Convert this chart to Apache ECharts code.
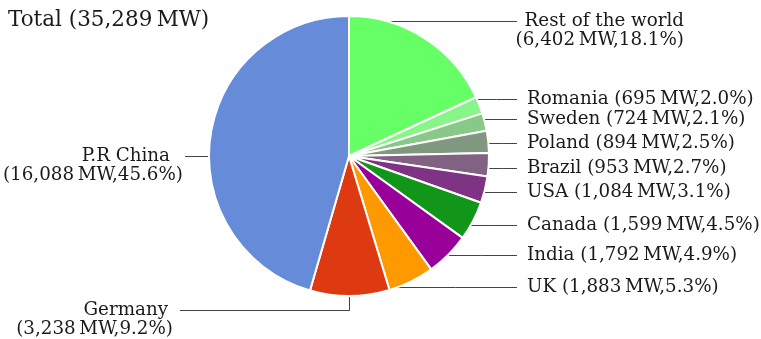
<!DOCTYPE html>
<html>
<head>
<meta charset="utf-8">
<style>
  html, body { margin: 0; padding: 0; background: #ffffff; }
  #chart { width: 761px; height: 339px; }
</style>
<script src="https://cdn.jsdelivr.net/npm/echarts@6/dist/echarts.min.js"></script>
</head>
<body>
<div id="chart"></div>
<script>
// Installed wind power capacity by country (MW), clockwise from 12 o'clock
const categories = ['Rest of the world', 'Romania', 'Sweden', 'Poland', 'Brazil', 'USA',
                    'Canada', 'India', 'UK', 'Germany', 'P.R China'];
const capacityMW = [6402, 695, 724, 894, 953, 1084, 1599, 1792, 1883, 3238, 16088];
const sharePct = ['18.1', '2.0', '2.1', '2.5', '2.7', '3.1', '4.5', '4.9', '5.3', '9.2', '45.6'];
const totalMW = 35289;

const sliceColors = ['#66ff66', '#88f588', '#88c888', '#809880', '#826282', '#7f3385',
                     '#119619', '#990099', '#ff9900', '#dd3a12', '#668bd9'];

// pie geometry (px)
const CX = 349, CY = 156, R = 140, VIS_R = 139;
const FONT = 'DejaVu Serif';
const FS = 18.3, LH = 19;
const RIGHT_TEXT_X = 527, RIGHT_LINE_END = 517;

// label placement: y of the leader line for each slice
const labelLineY = [21.5, 99.5, 119.5, 143.5, 168.5, 192.5, 225.5, 255.5, 287.5, 310.5, 156.5];
const twoLine = { 'Rest of the world': '', 'Germany': 'g', 'P.R China': 'c' };

const fmt = n => n.toLocaleString('en-US');
const edgeX = y => CX + Math.sqrt(Math.max(0, VIS_R * VIS_R - (y - CY) * (y - CY)));

const seriesData = categories.map((name, i) => ({
  name: name,
  value: capacityMW[i],
  itemStyle: { color: sliceColors[i] }
}));

const chart = echarts.init(document.getElementById('chart'), null, { renderer: 'canvas' });

chart.setOption({
  animation: false,
  title: {
    text: 'Total (' + fmt(totalMW) + '\u2009MW)',
    left: 3,
    top: 4,
    textStyle: { fontFamily: FONT, fontSize: 21.5, fontWeight: 'normal', color: '#1a1a1a' }
  },
  series: [{
    type: 'pie',
    center: [CX, CY],
    radius: R,
    startAngle: 90,
    clockwise: true,
    avoidLabelOverlap: false,
    silent: true,
    itemStyle: { borderColor: '#ffffff', borderWidth: 2 },
    label: {
      show: true,
      position: 'outside',
      fontFamily: FONT,
      fontSize: FS,
      lineHeight: LH,
      color: '#1a1a1a',
      formatter: p => {
        const i = p.dataIndex;
        const val = '(' + fmt(capacityMW[i]) + '\u2009MW,' + sharePct[i] + '%)';
        if (p.name in twoLine) {
          const tag = twoLine[p.name];
          return tag ? '{' + tag + '|' + p.name + '}\n{v|' + val + '}' : p.name + '\n' + val;
        }
        return p.name + ' ' + val;
      },
      rich: {
        c: { fontFamily: FONT, fontSize: FS, lineHeight: LH, color: '#1a1a1a', padding: [0, 13, 0, 0] },
        g: { fontFamily: FONT, fontSize: FS, lineHeight: LH, color: '#1a1a1a', padding: [0, 5, 0, 0] },
        v: { fontFamily: FONT, fontSize: FS, lineHeight: LH, color: '#1a1a1a' }
      }
    },
    labelLine: {
      show: true,
      length: 10,
      length2: 10,
      lineStyle: { color: '#444444', width: 1 }
    },
    labelLayout: params => {
      const i = params.dataIndex;
      const y = labelLineY[i];
      const name = categories[i];
      if (name === 'P.R China') {
        return {
          x: 183, y: y - LH / 2, align: 'right', verticalAlign: 'top',
          labelLinePoints: [[CX - VIS_R, y], [196, y], [185, y]]
        };
      }
      if (name === 'Germany') {
        return {
          x: 173, y: y - LH / 2, align: 'right', verticalAlign: 'top',
          labelLinePoints: [[CX + 0.5, CY + VIS_R], [CX + 0.5, y], [180, y]]
        };
      }
      if (name === 'Rest of the world') {
        return {
          x: 684, y: y - LH / 2, align: 'right', verticalAlign: 'top',
          labelLinePoints: [[edgeX(y), y], [450, y], [RIGHT_LINE_END, y]]
        };
      }
      return {
        x: RIGHT_TEXT_X, y: y, align: 'left', verticalAlign: 'middle',
        labelLinePoints: [[edgeX(y), y], [(edgeX(y) + RIGHT_LINE_END) / 2, y], [RIGHT_LINE_END, y]]
      };
    },
    data: seriesData
  }]
});
</script>
</body>
</html>
